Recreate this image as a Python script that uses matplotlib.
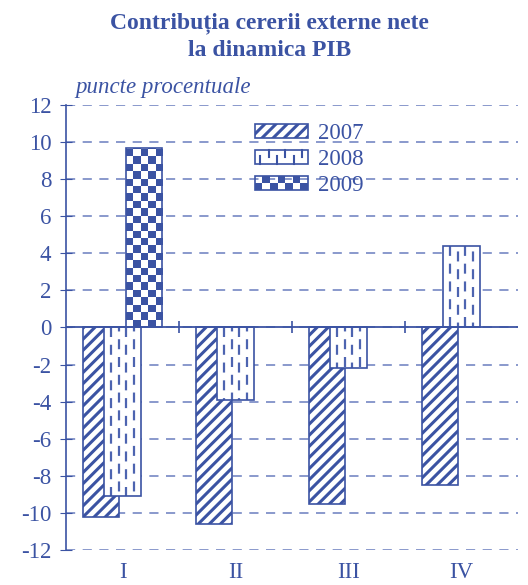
import numpy as np
import matplotlib
matplotlib.use('Agg')
import matplotlib.pyplot as plt
from matplotlib.colors import ListedColormap
from matplotlib.patches import Patch, Rectangle
from matplotlib.lines import Line2D
from matplotlib.legend_handler import HandlerBase

# data (percentage points)
quarters = ['I', 'II', 'III', 'IV']
v2007 = [-10.2, -10.6, -9.5, -8.5]
v2008 = [-9.1, -3.9, -2.2, 4.4]
v2009 = [9.7, np.nan, np.nan, np.nan]
years = ['2007', '2008', '2009']

BLUE = '#3b53a3'
GRID = '#7587c3'
plt.rcParams['font.family'] = ['Liberation Serif', 'DejaVu Serif']
plt.rcParams['axes.unicode_minus'] = False
plt.rcParams['hatch.linewidth'] = 2.2
plt.rcParams['hatch.color'] = BLUE

W = 0.32     # bar width
OFF = 0.19   # shift between series
CELL = 0.4   # checker cell height, in y units
FS = 16.5


class DashHandler(HandlerBase):
    def create_artists(self, legend, orig_handle, xdescent, ydescent,
                       width, height, fontsize, trans):
        x0, y0 = -xdescent, -ydescent
        arts = []
        for i, xx in enumerate(np.linspace(x0 + 4, x0 + width - 4, 6)):
            if i % 2 == 0:
                ys = [y0, y0 + height * 0.55]
            else:
                ys = [y0 + height * 0.45, y0 + height]
            arts.append(Line2D([xx, xx], ys, color=BLUE, lw=1.5, transform=trans))
        arts.append(Rectangle((x0, y0), width, height, fill=False, ec=BLUE,
                              lw=1.2, transform=trans))
        return arts


class CheckerHandler(HandlerBase):
    def create_artists(self, legend, orig_handle, xdescent, ydescent,
                       width, height, fontsize, trans):
        x0, y0 = -xdescent, -ydescent
        nx, ny = 7, 2
        cw, ch = width / nx, height / ny
        arts = []
        for i in range(nx):
            for j in range(ny):
                if (i + j) % 2 == 0:
                    arts.append(Rectangle((x0 + i * cw, y0 + j * ch), cw, ch,
                                          fc=BLUE, ec='none', transform=trans))
        arts.append(Rectangle((x0, y0), width, height, fill=False, ec=BLUE,
                              lw=1.2, transform=trans))
        return arts


fig = plt.figure(figsize=(5.28, 5.85), dpi=100)
ax = fig.add_axes([0.125, 0.06, 0.856, 0.7605])
x = np.arange(len(quarters))

# 2007: diagonal hatch
ax.bar(x - OFF, v2007, W, color='white', edgecolor=BLUE, hatch='///',
       lw=1.2, zorder=2)

# 2008: dashed vertical lines clipped to the bars
b08 = ax.bar(x, v2008, W, color='white', edgecolor='none', zorder=3)
for xc, v, bar in zip(x, v2008, b08):
    for k, dx in enumerate([-0.105, -0.035, 0.035, 0.105]):
        ln, = ax.plot([xc + dx, xc + dx], [0, v], color='#4d64b0', lw=1.6,
                      ls=(2.5 * (k % 2), (4.5, 3.5)), zorder=3.1)
        ln.set_clip_path(bar)
ax.bar(x, v2008, W, fill=False, edgecolor=BLUE, lw=1.2, zorder=3.2)

# 2009: checkerboard clipped to the bars
cmap = ListedColormap(['white', BLUE])
b09 = ax.bar(x + OFF, v2009, W, color='white', edgecolor='none', zorder=4)
for xc, v, bar in zip(x, v2009, b09):
    if np.isnan(v):
        continue
    ny = int(np.ceil(abs(v) / CELL))
    grid = np.add.outer(np.arange(ny), np.arange(5)) % 2
    im = ax.imshow(grid, cmap=cmap, origin='lower', aspect='auto',
                   interpolation='nearest',
                   extent=(xc + OFF - W / 2, xc + OFF + W / 2, 0, np.sign(v) * ny * CELL),
                   zorder=4.1)
    im.set_clip_path(bar)
ax.bar(x + OFF, v2009, W, fill=False, edgecolor=BLUE, lw=1.2, zorder=4.2)

# zero line with category separators
ax.axhline(0, color=BLUE, lw=1.3, zorder=5)
bounds = np.arange(len(quarters) + 1) - 0.5
ax.plot(bounds[1:-1], np.zeros(len(bounds) - 2), ls='none', marker='|',
        ms=9, mew=1.2, color=BLUE, zorder=5)

ax.set_xlim(-0.5, len(quarters) - 0.5)
ax.set_ylim(-12, 12)
ax.set_yticks(np.arange(-12, 13, 2))
ax.set_xticks(x)
ax.set_xticklabels(quarters)
ax.tick_params(axis='x', length=0, pad=9, labelsize=FS, labelcolor=BLUE)
ax.tick_params(axis='y', direction='inout', length=9, color=BLUE,
               labelsize=FS, labelcolor=BLUE, pad=6)
ax.yaxis.grid(True, color=GRID, lw=1.2, ls=(0, (5.5, 4.5)))
ax.set_axisbelow(True)
for s in ['top', 'right', 'bottom']:
    ax.spines[s].set_visible(False)
ax.spines['left'].set_color(BLUE)
ax.spines['left'].set_linewidth(1.2)

h1 = Patch(facecolor='white', edgecolor=BLUE, hatch='///', lw=1.2)
h2 = Patch(facecolor='white', edgecolor=BLUE)
h3 = Patch(facecolor='white', edgecolor=BLUE)
leg = ax.legend([h1, h2, h3], years, loc='upper left',
                bbox_to_anchor=(0.418, 0.96), frameon=False, fontsize=FS,
                handlelength=2.3, handleheight=0.55, handletextpad=0.45,
                labelspacing=0.22, borderpad=0, borderaxespad=0,
                handler_map={h2: DashHandler(), h3: CheckerHandler()})
for t in leg.get_texts():
    t.set_color(BLUE)

fig.text(0.511, 0.937, 'Contribuția cererii externe nete\nla dinamica PIB',
         ha='center', va='center', fontsize=17, fontweight='bold', color=BLUE,
         linespacing=1.35)
fig.text(0.142, 0.85, 'puncte procentuale', ha='left', va='center',
         fontsize=FS, style='italic', color=BLUE)

fig.savefig('out.png', dpi=100)
